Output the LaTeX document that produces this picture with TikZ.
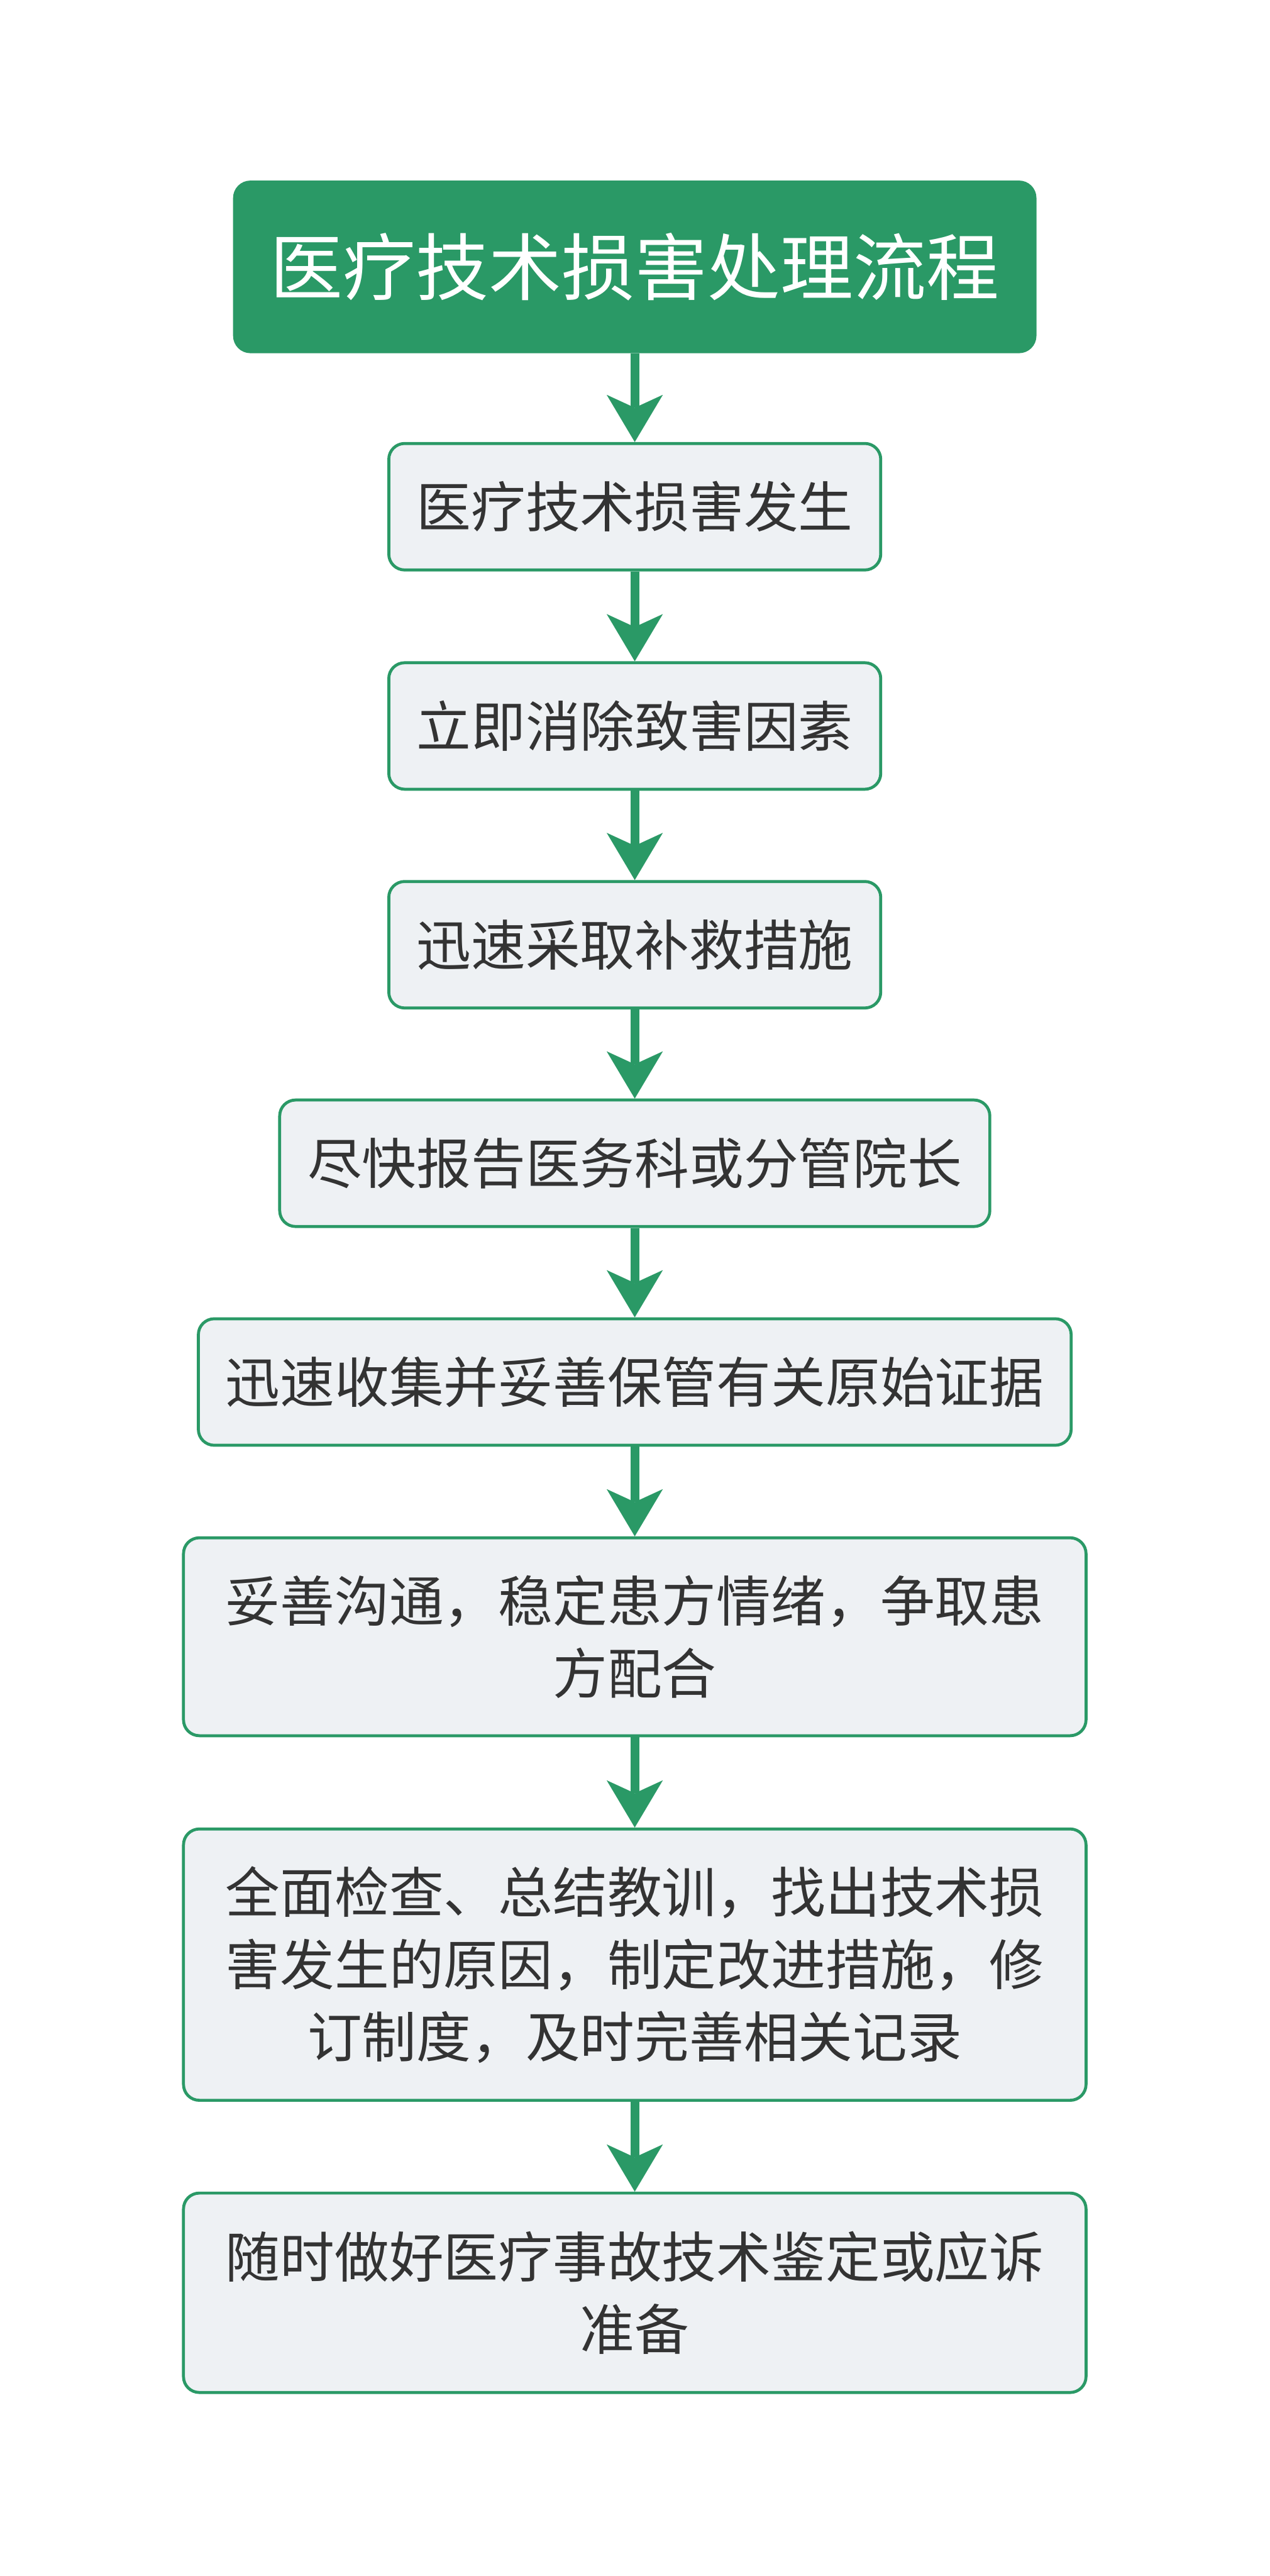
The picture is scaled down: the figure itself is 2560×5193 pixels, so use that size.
\documentclass[tikz,border=0pt]{standalone}
\usepackage{fontspec}
\newfontfamily\cjk{Noto Sans CJK SC}
\usetikzlibrary{arrows.meta}
\definecolor{sgreen}{HTML}{2A9966}
\definecolor{sfill}{HTML}{EEF1F4}
\definecolor{stext}{HTML}{333333}
\begin{document}
\begin{tikzpicture}[x=0.25pt,y=-0.25pt,
  flowbox/.style={draw=sgreen, line width=1.5pt, fill=sfill, rounded corners=8pt,
    inner sep=0pt, align=center, text=stext,
    font=\cjk\fontsize{27.5pt}{36.5pt}\selectfont, minimum height=63.75pt},
  titlebox/.style={draw=sgreen, fill=sgreen, line width=1.5pt, rounded corners=8pt,
    inner sep=0pt, text=white, font=\cjk\fontsize{36.75pt}{44pt}\selectfont,
    minimum width=403.5pt, minimum height=85.5pt},
  flowarrow/.style={draw=sgreen, line width=4.5pt,
    -{Stealth[length=23.75pt,width=28.25pt,inset=6.5pt,line width=0.1pt]}}]
\useasboundingbox[fill=white] (0,0) rectangle (2560,5193);
\node[titlebox] (t) at (1280,538) {医疗技术损害处理流程};
\node[flowbox, minimum width=248pt] (b1) at (1280,1021.5) {医疗技术损害发生};
\node[flowbox, minimum width=248pt] (b2) at (1280,1463.5) {立即消除致害因素};
\node[flowbox, minimum width=248pt] (b3) at (1280,1904.5) {迅速采取补救措施};
\node[flowbox, minimum width=358pt] (b4) at (1280,2345) {尽快报告医务科或分管院长};
\node[flowbox, minimum width=440pt] (b5) at (1280,2786) {迅速收集并妥善保管有关原始证据};
\node[flowbox, minimum width=455pt, minimum height=99.75pt] (b6) at (1280,3299.5)
  {妥善沟通，稳定患方情绪，争取患\\方配合};
\node[flowbox, minimum width=455pt, minimum height=136.75pt] (b7) at (1280,3960.5)
  {全面检查、总结教训，找出技术损\\害发生的原因，制定改进措施，修\\订制度，及时完善相关记录};
\node[flowbox, minimum width=455pt, minimum height=100.5pt] (b8) at (1280,4622)
  {随时做好医疗事故技术鉴定或应诉\\准备};
\draw[flowarrow] (t) -- (b1);
\draw[flowarrow] (b1) -- (b2);
\draw[flowarrow] (b2) -- (b3);
\draw[flowarrow] (b3) -- (b4);
\draw[flowarrow] (b4) -- (b5);
\draw[flowarrow] (b5) -- (b6);
\draw[flowarrow] (b6) -- (b7);
\draw[flowarrow] (b7) -- (b8);
\end{tikzpicture}
\end{document}
